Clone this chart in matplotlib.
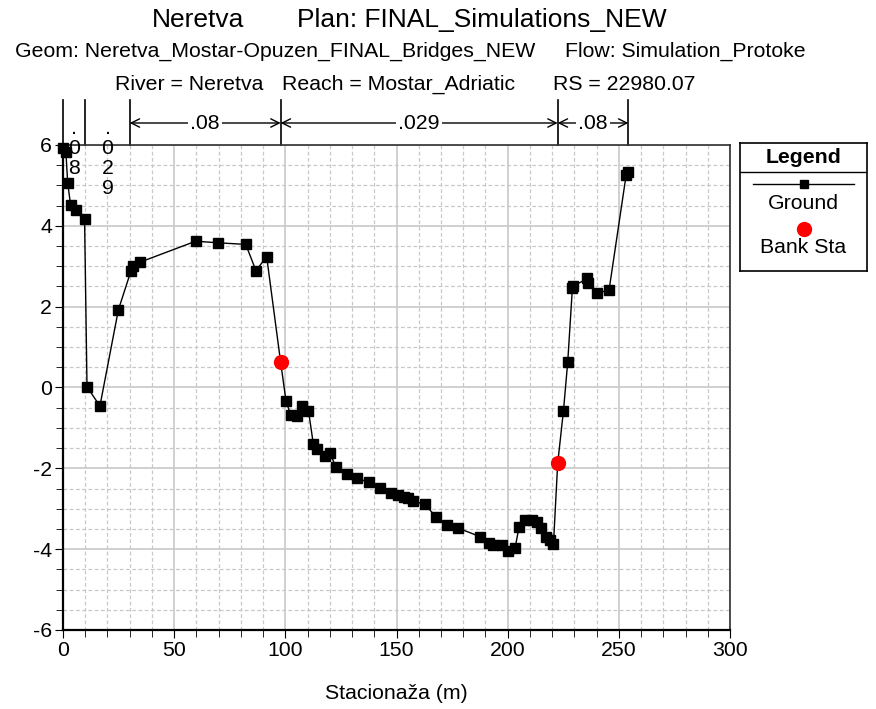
import numpy as np
import matplotlib.pyplot as plt
from matplotlib.ticker import MultipleLocator

plt.rcParams['font.family'] = ['Liberation Sans', 'DejaVu Sans']
plt.rcParams['axes.unicode_minus'] = False

# ground profile (station m, elevation m)
ground_x = [0.0, 1.3, 2.1, 3.4, 5.8, 9.7, 10.8, 16.6, 24.9, 30.6, 31.3, 34.6,
            59.7, 69.9, 82.2, 86.8, 91.6, 97.9,
            100.3, 102.4, 105.1, 107.4, 110.4, 112.6, 114.4, 117.9, 120.1, 122.8,
            127.6, 132.4, 137.8, 142.6, 147.4, 150.8, 153.4, 155.3, 157.6, 162.8,
            167.7, 172.6, 177.8, 187.6, 191.4, 193.6, 197.4, 200.3, 203.3, 205.1,
            207.8, 210.8, 213.0, 214.8, 217.2, 219.0, 220.6, 222.5,
            225.1, 227.0, 229.1, 229.3, 235.9, 236.3, 240.0, 245.6, 253.3, 254.3]
ground_z = [5.92, 5.83, 5.07, 4.52, 4.38, 4.17, 0.02, -0.46, 1.92, 2.89, 3.0, 3.1,
            3.62, 3.58, 3.54, 2.89, 3.24, 0.62,
            -0.33, -0.68, -0.70, -0.47, -0.57, -1.40, -1.51, -1.69, -1.63, -1.97,
            -2.14, -2.25, -2.35, -2.49, -2.60, -2.66, -2.70, -2.74, -2.81, -2.89,
            -3.20, -3.40, -3.48, -3.69, -3.84, -3.90, -3.90, -4.04, -3.98, -3.46,
            -3.28, -3.28, -3.32, -3.48, -3.69, -3.77, -3.87, -1.88,
            -0.57, 0.62, 2.45, 2.50, 2.70, 2.59, 2.33, 2.41, 5.26, 5.32]

bank_x = [97.9, 222.5]
bank_z = [0.62, -1.88]

# Manning's n zones
n_breaks = [0.0, 10.0, 30.0, 97.9, 222.5, 254.3]
n_values = ['.08', '.029', '.08', '.029', '.08']

FS = 15.3

fig = plt.figure(figsize=(8.76, 7.09), dpi=100)
ax = fig.add_axes([63/876, 1-630/709, (730-63)/876, (630-145)/709])

ax.plot(ground_x, ground_z, color='black', lw=1.0, marker='s', ms=7,
        mfc='black', mec='black', zorder=3, clip_on=False)
ax.plot(bank_x, bank_z, 'o', color='#ff0000', ms=10, zorder=4)

ax.set_xlim(0, 300)
ax.set_ylim(-6, 6)
ax.xaxis.set_major_locator(MultipleLocator(50))
ax.xaxis.set_minor_locator(MultipleLocator(10))
ax.yaxis.set_major_locator(MultipleLocator(2))
ax.yaxis.set_minor_locator(MultipleLocator(0.5))
ax.grid(which='major', color='#c8c8c8', lw=1.2, ls='-', zorder=0)
ax.grid(which='minor', color='#c8c8c8', lw=0.9, ls=(0, (3, 2)), zorder=0)
ax.tick_params(which='both', direction='out', labelsize=FS, color='black')
ax.tick_params(which='major', length=6, pad=2)
ax.tick_params(which='minor', length=5)
for s in ['left', 'bottom']:
    ax.spines[s].set_linewidth(1.6)
for s in ['top', 'right']:
    ax.spines[s].set_linewidth(1.2)
    ax.spines[s].set_color('#303030')
ax.set_xlabel('Stacionaža (m)', fontsize=FS, labelpad=17)

# n value annotations above the plot
trans = ax.get_xaxis_transform()
def ypix(p):
    # figure pixel row -> axes fraction
    return 1 + (145 - p) / 485

for xb in n_breaks:
    ax.plot([xb, xb], [1.0, ypix(100)], color='black', lw=1.2, transform=trans,
            clip_on=False)
for i, nv in enumerate(n_values):
    x0, x1 = n_breaks[i], n_breaks[i + 1]
    xm = (x0 + x1) / 2
    if x1 - x0 < 25:
        for k, ch in enumerate(nv):
            ax.text(xm, ypix(134 + 20 * k), ch, transform=trans, ha='center',
                    va='baseline', fontsize=FS)
    else:
        ax.annotate('', xy=(x0, ypix(123)), xytext=(x1, ypix(123)), xycoords=trans,
                    textcoords=trans,
                    arrowprops=dict(arrowstyle='<->', lw=1.0, color='black',
                                    shrinkA=0, shrinkB=0, mutation_scale=15))
        ax.text(xm, ypix(124), nv, transform=trans, ha='center', va='center',
                fontsize=FS,
                bbox=dict(facecolor='white', edgecolor='none', pad=1.5))

# titles
fig.text(152/876, 1-20/709, 'Neretva', fontsize=19, va='center')
fig.text(297/876, 1-20/709, 'Plan: FINAL_Simulations_NEW', fontsize=19, va='center')
fig.text(15/876, 1-51/709, 'Geom: Neretva_Mostar-Opuzen_FINAL_Bridges_NEW',
         fontsize=FS, va='center')
fig.text(565/876, 1-51/709, 'Flow: Simulation_Protoke', fontsize=FS, va='center')
fig.text(115/876, 1-84/709, 'River = Neretva', fontsize=FS, va='center')
fig.text(282/876, 1-84/709, 'Reach = Mostar_Adriatic', fontsize=FS, va='center')
fig.text(553/876, 1-84/709, 'RS = 22980.07', fontsize=FS, va='center')

# legend box
lax = fig.add_axes([740/876, 1-271/709, 127/876, 128/709])
lax.set_xlim(0, 1)
lax.set_ylim(0, 1)
lax.set_xticks([])
lax.set_yticks([])
for s in lax.spines.values():
    s.set_linewidth(1.2)
lax.axhline(0.77, color='black', lw=1.0)
lax.text(0.5, 0.885, 'Legend', ha='center', va='center', fontsize=FS,
         fontweight='bold')
lax.plot([0.1, 0.9], [0.68, 0.68], color='black', lw=1.0)
lax.plot([0.5], [0.68], 's', color='black', ms=6)
lax.text(0.5, 0.53, 'Ground', ha='center', va='center', fontsize=FS)
lax.plot([0.5], [0.33], 'o', color='#ff0000', ms=10)
lax.text(0.5, 0.18, 'Bank Sta', ha='center', va='center', fontsize=FS)

fig.savefig('out.png', dpi=100)
